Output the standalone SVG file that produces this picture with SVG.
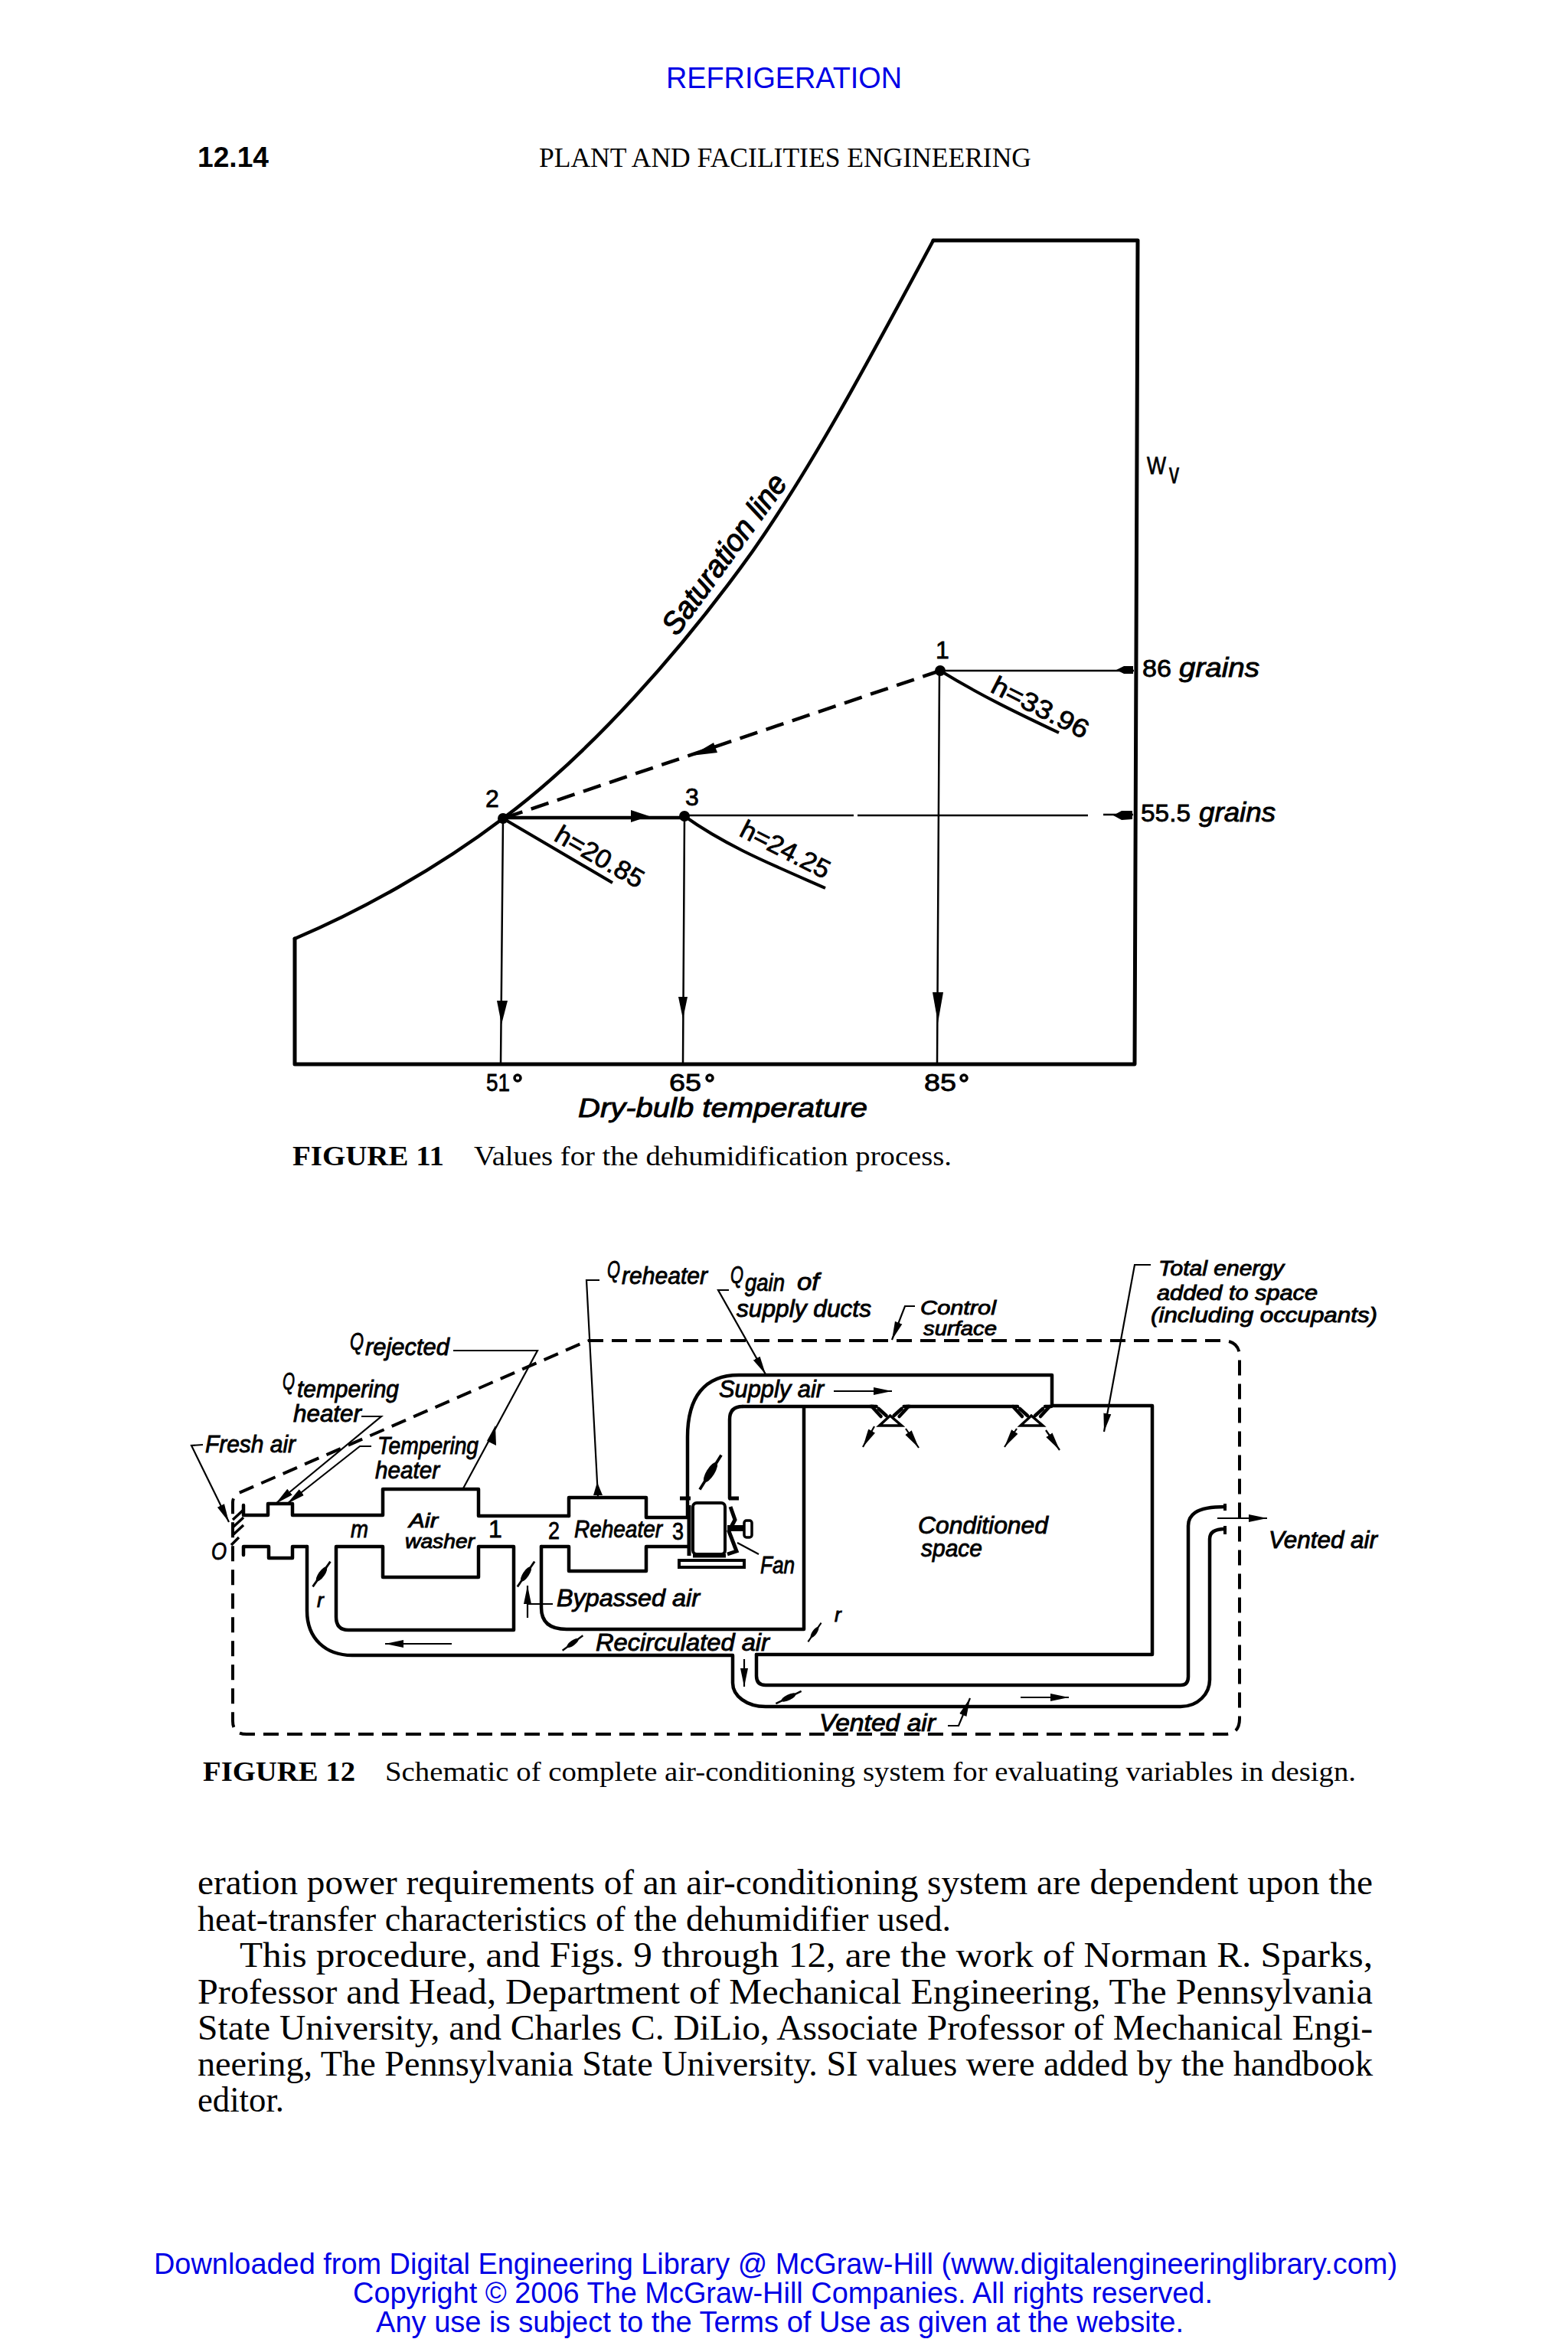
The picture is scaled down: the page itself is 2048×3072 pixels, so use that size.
<svg xmlns="http://www.w3.org/2000/svg" width="2048" height="3072" viewBox="0 0 2048 3072">
<style>
.blue{font-family:"Liberation Sans",Arial,sans-serif;fill:#0000e6;font-size:38px}
.serif{font-family:"Liberation Serif","Times New Roman",serif;fill:#000}
.body{font-size:46px}
.cap{font-size:36px}
.b{font-weight:bold}
.l{font-family:"Liberation Sans",Arial,sans-serif;font-style:italic;fill:#000;stroke:#000;stroke-width:.9px;font-size:32px}
.n{font-family:"Liberation Sans",Arial,sans-serif;fill:#000;stroke:#000;stroke-width:.8px;font-size:32px}
.tight{font-size:26px}
.tight2{font-size:27px}
.wall{fill:none;stroke:#000;stroke-width:5;stroke-linejoin:round;stroke-linecap:round}
.curve{fill:none;stroke:#000;stroke-width:4.5;stroke-linecap:round}
.duct{fill:none;stroke:#000;stroke-width:4.5;stroke-linejoin:round;stroke-linecap:round}
.thin{fill:none;stroke:#000;stroke-width:2.5}
.dash{fill:none;stroke:#000;stroke-width:4;stroke-dasharray:20 11}
.dash2{fill:none;stroke:#000;stroke-width:4.5;stroke-dasharray:24 12}
.lead{fill:none;stroke:#000;stroke-width:2.2}
.head{fill:#000;stroke:none}
</style>
<defs>
<marker id="arr" markerUnits="userSpaceOnUse" markerWidth="26" markerHeight="16" refX="24" refY="8" orient="auto"><path d="M0 3 L24 8 L0 13 Z" fill="#000"/></marker>
<g id="damper"><path d="M-25 0H25" stroke="#000" stroke-width="3.5"/><ellipse rx="14" ry="5" fill="#000"/></g>
<g id="diffuser"><path class="duct" d="M-24 0 L-12 13 M-26 0 H-18 M24 0 L12 13 M26 0 H18 M-15 3 L-5 12 M15 3 L5 12"/><path d="M-14 25 L0 12 L15 25 Z" fill="none" stroke="#000" stroke-width="3.5"/></g>
</defs>
<rect width="2048" height="3072" fill="#fff"/>

<g id="page-header">
<text class="blue" x="870" y="115" textLength="308" lengthAdjust="spacingAndGlyphs">REFRIGERATION</text>
<text x="258" y="218" font-family="Liberation Sans,Arial,sans-serif" font-weight="bold" font-size="36" textLength="93" lengthAdjust="spacingAndGlyphs">12.14</text>
<text class="serif" font-size="35" x="704" y="218" textLength="643" lengthAdjust="spacingAndGlyphs">PLANT AND FACILITIES ENGINEERING</text>
</g>

<g id="chart-frame">
<path class="wall" d="M1219 314 H1486 L1482 1390 H385 V1226"/>
<path id="saturation-line" class="curve" d="M1219 314 C1130 480 1060 610 983 720 C890 850 770 985 657 1069 C570 1135 470 1190 385 1226"/>
<text class="l" style="font-size:40px;stroke-width:1.2px" transform="translate(884,832) rotate(-54)" textLength="248" lengthAdjust="spacingAndGlyphs">Saturation line</text>
<text class="n"><tspan x="1498" y="619" textLength="25" lengthAdjust="spacingAndGlyphs">W</tspan><tspan x="1527" y="631" style="font-size:36px" textLength="13" lengthAdjust="spacingAndGlyphs">v</tspan></text>
<text class="n" x="635" y="1425" textLength="31" lengthAdjust="spacingAndGlyphs">51</text>
<circle cx="676" cy="1408" r="4" fill="none" stroke="#000" stroke-width="3.5"/>
<text class="n" x="874" y="1425" textLength="42" lengthAdjust="spacingAndGlyphs">65</text>
<circle cx="927" cy="1408" r="4" fill="none" stroke="#000" stroke-width="3.5"/>
<text class="n" x="1207" y="1425" textLength="42" lengthAdjust="spacingAndGlyphs">85</text>
<circle cx="1259" cy="1408" r="4" fill="none" stroke="#000" stroke-width="3.5"/>
<text class="l" x="755" y="1459" style="font-size:35px" textLength="378" lengthAdjust="spacingAndGlyphs">Dry-bulb temperature</text>
<text class="n" x="1492" y="884" textLength="38" lengthAdjust="spacingAndGlyphs">86</text>
<text class="l" x="1540" y="884" textLength="105" lengthAdjust="spacingAndGlyphs" style="font-size:35px">grains</text>
<text class="n" x="1490" y="1073" textLength="65" lengthAdjust="spacingAndGlyphs">55.5</text>
<text class="l" x="1566" y="1073" textLength="100" lengthAdjust="spacingAndGlyphs" style="font-size:35px">grains</text>
</g>

<g id="state-1">
<circle cx="1228" cy="876" r="7"/>
<text class="n" x="1222" y="860">1</text>
<text class="n" style="font-size:34px" transform="translate(1292,903) rotate(27)" textLength="138" lengthAdjust="spacingAndGlyphs">h=33.96</text>
</g>
<g id="state-2">
<circle cx="657" cy="1069" r="7"/>
<text class="n" x="634" y="1054">2</text>
<text class="n" style="font-size:34px" transform="translate(722,1097) rotate(30)" textLength="128" lengthAdjust="spacingAndGlyphs">h=20.85</text>
</g>
<g id="state-3">
<circle cx="894" cy="1066" r="7"/>
<text class="n" x="895" y="1052">3</text>
<text class="n" style="font-size:34px" transform="translate(964,1091) rotate(27)" textLength="127" lengthAdjust="spacingAndGlyphs">h=24.25</text>
</g>

<g id="chart-connectors">
<path class="dash2" d="M1228 876 L657 1069"/>
<polygon class="head" points="903,987 932,970 937,983"/>
<path d="M657 1068 H894" fill="none" stroke="#000" stroke-width="4.5"/>
<polygon class="head" points="824,1058 848,1066 824,1074"/>
<path class="thin" d="M894 1065 H1115 M1120 1065 H1421 M1441 1064 H1480"/>
<polygon class="head" points="1479,1059 1479,1070 1465,1071 1454,1065 1465,1059"/>
<path class="thin" d="M1228 876 H1481" stroke-width="3"/>
<polygon class="head" points="1480,870 1480,880 1468,880 1458,875 1468,870"/>
<path class="thin" d="M657 1069 L654 1390 M894 1066 L892 1390 M1227 876 L1224 1390"/>
<polygon class="head" points="649,1307 663,1307 655,1338"/>
<polygon class="head" points="886,1302 898,1302 892,1331"/>
<polygon class="head" points="1218,1296 1232,1296 1225,1336"/>
<path d="M657 1069 L800 1153 M894 1066 C950 1106 1010 1130 1078 1160 M1228 876 C1280 908 1330 932 1383 957" fill="none" stroke="#000" stroke-width="4"/>
</g>

<g id="figure-11-caption">
<text class="serif cap b" x="382" y="1522" textLength="198" lengthAdjust="spacingAndGlyphs">FIGURE 11</text>
<text class="serif cap" x="619" y="1522" textLength="624" lengthAdjust="spacingAndGlyphs">Values for the dehumidification process.</text>
</g>

<g id="control-surface">
<path class="dash" d="M768 1751 H1596 Q1619 1751 1619 1772 V2245 Q1619 2265 1600 2265 H322 Q304 2265 304 2248 V1962 Q304 1955 312 1950 L768 1751"/>
<path d="M304 1985 L318 1972 M304 1995 L318 1982 M304 2005 L318 1992 M302 2018 L312 2008" stroke="#000" stroke-width="3.5"/>
</g>

<g id="air-washer">
<path class="duct" d="M318 1966 V1979 H350 V1964 H382 V1979 H500 V1945 H625 V1980 H743 M439 2020 H500 V2060 H625 V2020 H671 V2129 H455 Q439 2129 439 2112 Z"/>
<text class="l tight"><tspan x="534" y="1995" textLength="38" lengthAdjust="spacingAndGlyphs">Air</tspan><tspan x="529" y="2022" textLength="91" lengthAdjust="spacingAndGlyphs">washer</tspan></text>
<text class="l" x="458" y="2008" textLength="23" lengthAdjust="spacingAndGlyphs">m</text>
<text class="n" x="638" y="2008">1</text>
</g>
<g id="tempering-heater">
<text class="l"><tspan x="493" y="1899" textLength="132" lengthAdjust="spacingAndGlyphs">Tempering</tspan><tspan x="490" y="1931" textLength="84" lengthAdjust="spacingAndGlyphs">heater</tspan></text>
<path class="duct" d="M318 2031 V2020 H351 V2035 H382 V2020 H401"/>
</g>
<g id="reheater">
<path class="duct" d="M743 1980 V1956 H844 V1982 H898 M707 2020 H743 V2052 H844 V2020 H898"/>
<text class="l" x="750" y="2008" textLength="115" lengthAdjust="spacingAndGlyphs">Reheater</text>
<text class="n" x="716" y="2010" textLength="15" lengthAdjust="spacingAndGlyphs">2</text>
<text class="n" x="878" y="2011" textLength="15" lengthAdjust="spacingAndGlyphs">3</text>
</g>
<g id="fan">
<rect x="905" y="1963" width="42" height="67" rx="5" fill="none" stroke="#000" stroke-width="4"/>
<path d="M900 1966 V2032 M888 1957 H902 M952 1957 H965 M948 2032 H905" stroke="#000" stroke-width="5" fill="none"/>
<path d="M954 1968 L960 1985 L952 2000 L962 2026 L950 2030" fill="none" stroke="#000" stroke-width="5"/>
<rect x="887" y="2038" width="85" height="9" fill="#fff" stroke="#000" stroke-width="4"/>
<path d="M950 1996 H973" stroke="#000" stroke-width="8"/>
<rect x="972" y="1986" width="10" height="22" rx="3" fill="#fff" stroke="#000" stroke-width="3.5"/>
<path class="lead" d="M963 2015 L991 2030"/>
<text class="l" x="993" y="2055" textLength="45" lengthAdjust="spacingAndGlyphs">Fan</text>
</g>
<g id="conditioned-space">
<path class="duct" d="M970 1837 H1141 M1184 1837 H1320 M1374 1836 H1505 V2161 H988 M1050 1837 V2128 H740 Q707 2128 707 2100 V2020"/>
<use href="#diffuser" x="1162.6" y="1837"/>
<use href="#diffuser" x="1347" y="1837"/>
<text class="l"><tspan x="1199" y="2003" textLength="170" lengthAdjust="spacingAndGlyphs">Conditioned</tspan><tspan x="1203" y="2033" textLength="80" lengthAdjust="spacingAndGlyphs">space</tspan></text>
</g>
<g id="supply-duct">
<path class="duct" d="M898 1982 V1877 C898 1825 920 1796 965 1796 H1374 V1836 M953 1957 V1854 Q953 1837 970 1837"/>
<text class="l" x="939" y="1825" textLength="137" lengthAdjust="spacingAndGlyphs">Supply air</text>
</g>
<g id="recirculated-duct">
<path class="duct" d="M401 2020 V2104 C401 2140 425 2162 460 2162 H957 V2198 C957 2215 975 2229 1000 2229 H1542 C1565 2229 1580 2212 1580 2194 V2010 Q1580 1997 1600 1997 M988 2161 V2189 Q988 2201 1000 2201 H1542 Q1552 2201 1552 2190 V1993 C1552 1980 1560 1968 1600 1968"/>
<path d="M1600 1964 V1973 M1600 1993 V2004" stroke="#000" stroke-width="4"/>
<text class="l" x="778" y="2156" textLength="227" lengthAdjust="spacingAndGlyphs">Recirculated air</text>
<text class="l" x="1090" y="2118" style="font-size:26px">r</text>
<text class="l" x="414" y="2099" style="font-size:26px">r</text>
</g>

<g id="labels">
<text class="l" x="268" y="1897" textLength="118" lengthAdjust="spacingAndGlyphs">Fresh air</text>
<text class="l"><tspan x="457" y="1763" textLength="18" lengthAdjust="spacingAndGlyphs">Q</tspan><tspan x="477" y="1770" textLength="110" lengthAdjust="spacingAndGlyphs">rejected</tspan></text>
<text class="l"><tspan x="369" y="1815" textLength="16" lengthAdjust="spacingAndGlyphs">Q</tspan><tspan x="388" y="1825" textLength="133" lengthAdjust="spacingAndGlyphs">tempering</tspan><tspan x="383" y="1857" textLength="89" lengthAdjust="spacingAndGlyphs">heater</tspan></text>
<text class="l"><tspan x="793" y="1669" textLength="17" lengthAdjust="spacingAndGlyphs">Q</tspan><tspan x="812" y="1677" textLength="112" lengthAdjust="spacingAndGlyphs">reheater</tspan></text>
<text class="l"><tspan x="954" y="1676" textLength="17" lengthAdjust="spacingAndGlyphs">Q</tspan><tspan x="973" y="1686" textLength="52" lengthAdjust="spacingAndGlyphs">gain</tspan><tspan x="1041" y="1685" textLength="29" lengthAdjust="spacingAndGlyphs">of</tspan><tspan x="962" y="1720" textLength="176" lengthAdjust="spacingAndGlyphs">supply ducts</tspan></text>
<text class="l tight"><tspan x="1202" y="1717" textLength="99" lengthAdjust="spacingAndGlyphs">Control</tspan><tspan x="1206" y="1744" textLength="96" lengthAdjust="spacingAndGlyphs">surface</tspan></text>
<text class="l tight2"><tspan x="1513" y="1666" textLength="164" lengthAdjust="spacingAndGlyphs">Total energy</tspan><tspan x="1511" y="1698" textLength="210" lengthAdjust="spacingAndGlyphs">added to space</tspan><tspan x="1503" y="1727" textLength="296" lengthAdjust="spacingAndGlyphs">(including occupants)</tspan></text>
<text class="l" x="276" y="2037" textLength="20" lengthAdjust="spacingAndGlyphs">O</text>
<text class="l" x="727" y="2098" textLength="187" lengthAdjust="spacingAndGlyphs">Bypassed air</text>
<text class="l" x="1657" y="2022" textLength="142" lengthAdjust="spacingAndGlyphs">Vented air</text>
<text class="l" x="1070" y="2261" textLength="152" lengthAdjust="spacingAndGlyphs">Vented air</text>
</g>

<g id="connectors">
<path class="lead" d="M265 1887 L250 1888 L299 1988" marker-end="url(#arr)"/>
<path class="lead" d="M472 1850 H498 L360 1964" marker-end="url(#arr)"/>
<path class="lead" d="M485 1889 H470 L375 1964" marker-end="url(#arr)"/>
<path class="lead" d="M592 1764 H702 L605 1944"/>
<polygon class="head" points="636,1882 647,1862 648,1888"/>
<path class="lead" d="M783 1672 H766 L781 1955"/>
<polygon class="head" points="775,1953 780,1936 787,1953"/>
<path class="lead" d="M952 1685 H938 L1000 1795" marker-end="url(#arr)"/>
<path class="lead" d="M1195 1706 H1182 L1165 1750" marker-end="url(#arr)"/>
<path class="lead" d="M1503 1652 H1482 L1442 1870" marker-end="url(#arr)"/>
<path class="lead" d="M1238 2254 H1252 L1267 2218" marker-end="url(#arr)"/>
<path class="lead" stroke-width="3" d="M1590 1983 H1655" marker-end="url(#arr)"/>
<path class="lead" stroke-width="3" d="M590 2147 H503" marker-end="url(#arr)"/>
<path class="lead" stroke-width="3" d="M1333 2217 H1396" marker-end="url(#arr)"/>
<path class="lead" stroke-width="3" d="M1089 1817 H1165" marker-end="url(#arr)"/>
<path class="lead" stroke-width="3" d="M972 2167 V2203" marker-end="url(#arr)"/>
<path class="lead" stroke-width="3" d="M689 2113 V2071" marker-end="url(#arr)"/>
<path class="lead" d="M689 2095 H722"/>
<path class="lead" stroke-width="3" d="M1142 1863 L1127 1890" marker-end="url(#arr)"/>
<path class="lead" stroke-width="3" d="M1183 1866 L1200 1891" marker-end="url(#arr)"/>
<path class="lead" stroke-width="3" d="M1328 1866 L1312 1890" marker-end="url(#arr)"/>
<path class="lead" stroke-width="3" d="M1366 1868 L1384 1894" marker-end="url(#arr)"/>
<use href="#damper" transform="translate(928,1923) rotate(-58) scale(1.06)"/>
<use href="#damper" transform="translate(420,2056) rotate(-55) scale(.8)"/>
<use href="#damper" transform="translate(687,2056) rotate(-56) scale(.8)"/>
<use href="#damper" transform="translate(748,2146) rotate(-36) scale(.66)"/>
<use href="#damper" transform="translate(1064,2132) rotate(-55) scale(.6)"/>
<use href="#damper" transform="translate(1030,2217) rotate(-26) scale(.74)"/>
</g>

<g id="figure-12-caption">
<text class="serif cap b" x="265" y="2326" textLength="199" lengthAdjust="spacingAndGlyphs">FIGURE 12</text>
<text class="serif cap" x="503" y="2326" textLength="1268" lengthAdjust="spacingAndGlyphs">Schematic of complete air-conditioning system for evaluating variables in design.</text>
</g>

<g id="body-text" class="serif body">
<text x="258" y="2474" textLength="1535" lengthAdjust="spacingAndGlyphs">eration power requirements of an air-conditioning system are dependent upon the</text>
<text x="258" y="2522" textLength="984" lengthAdjust="spacingAndGlyphs">heat-transfer characteristics of the dehumidifier used.</text>
<text x="313" y="2569" textLength="1480" lengthAdjust="spacingAndGlyphs">This procedure, and Figs. 9 through 12, are the work of Norman R. Sparks,</text>
<text x="258" y="2617" textLength="1535" lengthAdjust="spacingAndGlyphs">Professor and Head, Department of Mechanical Engineering, The Pennsylvania</text>
<text x="258" y="2664" textLength="1535" lengthAdjust="spacingAndGlyphs">State University, and Charles C. DiLio, Associate Professor of Mechanical Engi-</text>
<text x="258" y="2711" textLength="1535" lengthAdjust="spacingAndGlyphs">neering, The Pennsylvania State University. SI values were added by the handbook</text>
<text x="258" y="2758" textLength="113" lengthAdjust="spacingAndGlyphs">editor.</text>
</g>

<g id="page-footer">
<text class="blue" x="201" y="2970" textLength="1624" lengthAdjust="spacingAndGlyphs">Downloaded from Digital Engineering Library @ McGraw-Hill (www.digitalengineeringlibrary.com)</text>
<text class="blue" x="461" y="3008" textLength="1123" lengthAdjust="spacingAndGlyphs">Copyright © 2006 The McGraw-Hill Companies. All rights reserved.</text>
<text class="blue" x="491" y="3046" textLength="1055" lengthAdjust="spacingAndGlyphs">Any use is subject to the Terms of Use as given at the website.</text>
</g>
</svg>
